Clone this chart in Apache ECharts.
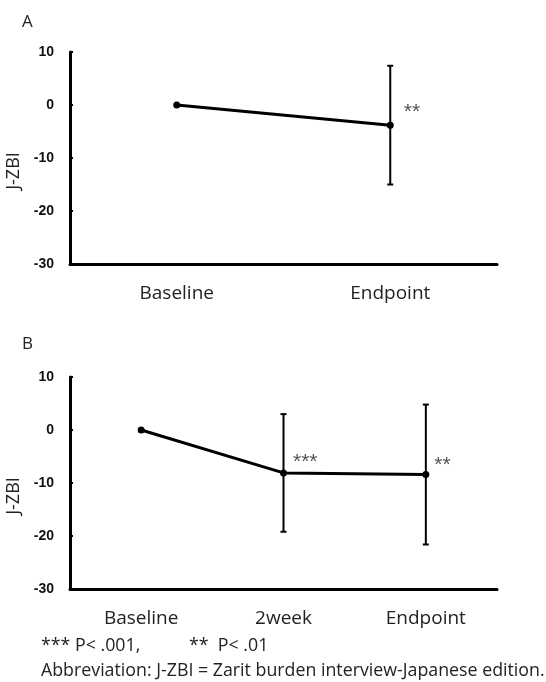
<!DOCTYPE html>
<html><head><meta charset="utf-8">
<script src="https://cdn.jsdelivr.net/npm/echarts@6/dist/echarts.min.js"></script>
<style>html,body{margin:0;padding:0;background:#fff}#c{width:546px;height:682px}</style>
</head><body><div id="c"></div>
<script>
var catsA = ['Baseline', 'Endpoint'];
var meanA = [0, -3.8];
var sdA = [0, 11.2];
var sigA = ['', '**'];

var catsB = ['Baseline', '2week', 'Endpoint'];
var meanB = [0, -8.1, -8.4];
var sdB = [0, 11.1, 13.2];
var sigB = ['', '***', '**'];

var yTicks = [10, 0, -10, -20, -30];

var FONT = '"Open Sans", sans-serif';
var SANS = '"Liberation Sans", Arial, sans-serif';

function errData(mean, sd) {
  var out = [];
  for (var i = 0; i < mean.length; i++) {
    if (sd[i] > 0) out.push([i, mean[i] - sd[i], mean[i] + sd[i]]);
  }
  return out;
}
function lineData(mean, sig, offs) {
  return mean.map(function (v, i) {
    return { value: v, label: { show: !!sig[i], formatter: sig[i], offset: offs[i] } };
  });
}
function renderErr(params, api) {
  var x = api.value(0);
  var lo = api.coord([x, api.value(1)]);
  var hi = api.coord([x, api.value(2)]);
  var w = 3;
  var st = { stroke: '#000', lineWidth: 2 };
  return {
    type: 'group',
    children: [
      { type: 'line', shape: { x1: lo[0], y1: lo[1], x2: hi[0], y2: hi[1] }, style: st },
      { type: 'line', shape: { x1: lo[0] - w, y1: lo[1], x2: lo[0] + w, y2: lo[1] }, style: st },
      { type: 'line', shape: { x1: hi[0] - w, y1: hi[1], x2: hi[0] + w, y2: hi[1] }, style: st }
    ]
  };
}
function xAx(cats, gi) {
  return {
    type: 'category', data: cats, gridIndex: gi, boundaryGap: true,
    axisLine: { onZero: false, lineStyle: { color: '#000', width: 3 } },
    axisTick: { show: false },
    axisLabel: { color: '#222', fontFamily: FONT, fontSize: 19, margin: 20 }
  };
}
function yAx(gi) {
  return {
    type: 'value', gridIndex: gi, min: -30, max: 10, interval: 10,
    name: 'J-ZBI', nameLocation: 'middle', nameGap: 31, nameRotate: 90,
    nameTextStyle: { color: '#222', fontFamily: FONT, fontSize: 18, padding: [0, 26, 0, 0] },
    splitLine: { show: false },
    axisLine: { show: true, onZero: false, lineStyle: { color: '#000', width: 3 } },
    axisTick: { show: true, inside: true, length: 3, lineStyle: { color: '#000', width: 2 } },
    axisLabel: { color: '#111', fontFamily: SANS, fontWeight: 'bold', fontSize: 14, margin: 16,
      formatter: function (v) { return yTicks.indexOf(v) >= 0 ? String(v) : ''; } }
  };
}
function lineSeries(mean, sig, gi, offs) {
  return {
    type: 'line', xAxisIndex: gi, yAxisIndex: gi, data: lineData(mean, sig, offs),
    symbol: 'circle', symbolSize: 7, z: 5,
    itemStyle: { color: '#000' },
    lineStyle: { color: '#000', width: 3 },
    label: { position: 'right', distance: 0, color: '#555', fontFamily: SANS, fontSize: 21 },
    animation: false
  };
}
function errSeries(mean, sd, gi) {
  return {
    type: 'custom', xAxisIndex: gi, yAxisIndex: gi, data: errData(mean, sd),
    renderItem: renderErr, z: 4, animation: false
  };
}

var chart = echarts.init(document.getElementById('c'), null, { renderer: 'canvas' });
chart.setOption({
  backgroundColor: '#fff',
  animation: false,
  title: [
    { text: 'A', left: 22, top: 14, padding: 0, textStyle: { fontFamily: FONT, fontWeight: 'normal', fontSize: 17, color: '#222' } },
    { text: 'B', left: 22, top: 336, padding: 0, textStyle: { fontFamily: FONT, fontWeight: 'normal', fontSize: 17, color: '#222' } }
  ],
  grid: [
    { left: 70, right: 49, top: 52, height: 212, outerBoundsMode: 'none' },
    { left: 70, right: 49, top: 377, height: 212, outerBoundsMode: 'none' }
  ],
  xAxis: [xAx(catsA, 0), xAx(catsB, 1)],
  yAxis: [yAx(0), yAx(1)],
  series: [
    errSeries(meanA, sdA, 0),
    lineSeries(meanA, sigA, 0, [[0, 0], [10, -13]]),
    errSeries(meanB, sdB, 1),
    lineSeries(meanB, sigB, 1, [[0, 0], [6, -11], [5, -9]])
  ],
  graphic: [
    { type: 'text', left: 41, top: 637, style: { text: '*** P< .001,', font: '17.8px ' + FONT, fill: '#222' } },
    { type: 'text', left: 189, top: 637, style: { text: '**  P< .01', font: '17.8px ' + FONT, fill: '#222' } },
    { type: 'text', left: 41, top: 662, style: { text: 'Abbreviation: J-ZBI = Zarit burden interview-Japanese edition.', font: '17.8px ' + FONT, fill: '#222' } }
  ]
});
</script>
</body></html>
